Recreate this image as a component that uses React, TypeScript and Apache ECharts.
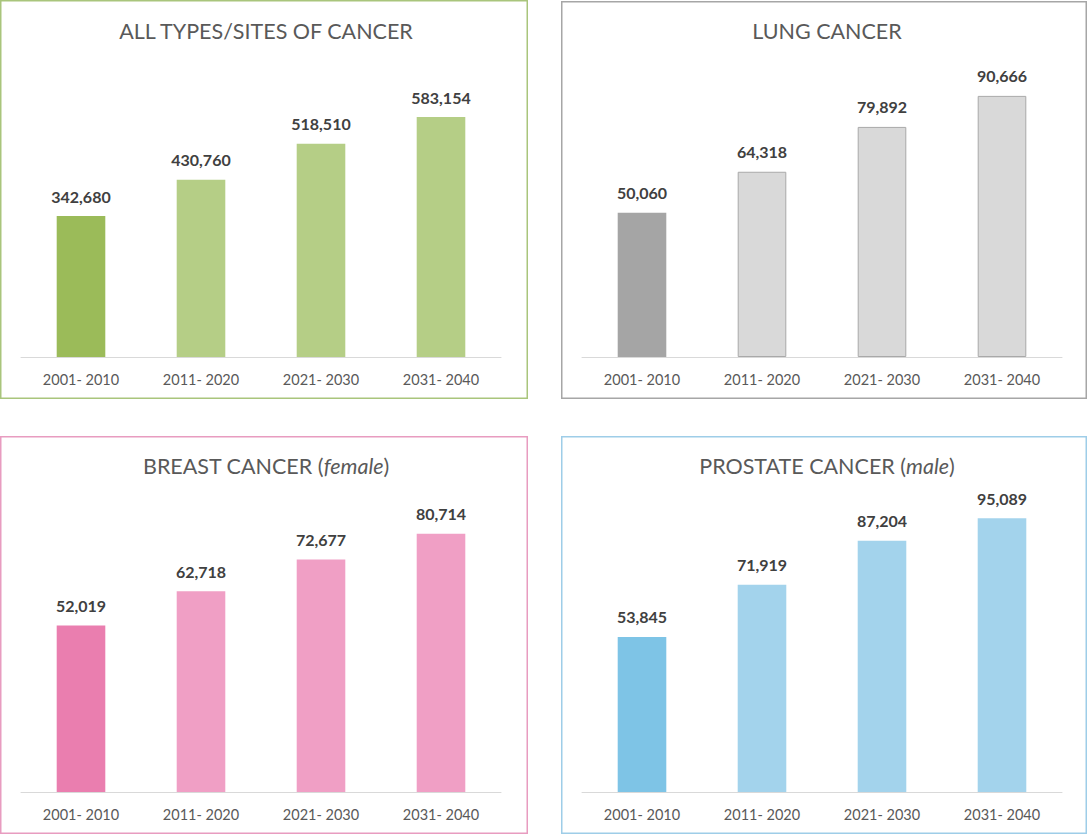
import React, { useEffect, useRef } from "react";
import * as echarts from "echarts";

const categories = ["2001- 2010", "2011- 2020", "2021- 2030", "2031- 2040"];
const allCancer = [342680, 430760, 518510, 583154];
const lungCancer = [50060, 64318, 79892, 90666];
const breastCancer = [52019, 62718, 72677, 80714];
const prostateCancer = [53845, 71919, 87204, 95089];
const titles = [
  "ALL TYPES/SITES OF CANCER",
  "LUNG CANCER",
  "BREAST CANCER ({i|female})",
  "PROSTATE CANCER ({i|male})",
];
const yMax = [700000, 100000, 90000, 100000];

const FONT = "Lato, 'Open Sans', sans-serif";

export default function App() {
  const ref = useRef<HTMLDivElement>(null);
  useEffect(() => {
    document.body.style.margin = "0";
    const chart = echarts.init(ref.current!, null, { renderer: "svg" });

    const panels = [
      { data: allCancer, first: "#9BBB59", rest: "#B5CE86", stroke: null, border: "#A9C57C", px: 0, py: 0, pw: 528, ph: 399 },
      { data: lungCancer, first: "#A5A5A5", rest: "#D9D9D9", stroke: "#A9A9A9", border: "#A6A6A6", px: 561, py: 1, pw: 526, ph: 398 },
      { data: breastCancer, first: "#EA7EAF", rest: "#F09FC5", stroke: null, border: "#E89CC0", px: 0, py: 436, pw: 528, ph: 398 },
      { data: prostateCancer, first: "#7EC4E6", rest: "#A3D3EC", stroke: null, border: "#9ECDE8", px: 561, py: 436, pw: 526, ph: 398 },
    ];

    const grids = panels.map((p, i) => ({
      left: i % 2 === 0 ? 21 : 582,
      width: 480,
      top: i < 2 ? 69 : 504,
      height: 288,
      containLabel: false,
    }));

    const option: any = {
      animation: false,
      backgroundColor: "#ffffff",
      title: panels.map((p, i) => ({
        text: titles[i],
        left: (i % 2 === 0 ? 21 : 582) + 240,
        top: i < 2 ? 15 : 450,
        textAlign: "center",
        textStyle: {
          fontFamily: FONT,
          fontSize: 21.5,
          fontWeight: "normal",
          color: "#595959",
          rich: {
            i: { fontFamily: FONT, fontSize: 21.5, fontStyle: "italic", color: "#595959" },
          },
        },
      })),
      grid: grids,
      xAxis: panels.map((p, i) => ({
        type: "category",
        gridIndex: i,
        data: categories,
        axisLine: { show: true, lineStyle: { color: "#D9D9D9", width: 1 } },
        axisTick: { show: false },
        axisLabel: { fontFamily: FONT, fontSize: 14.5, color: "#595959", margin: 15 },
      })),
      yAxis: panels.map((p, i) => ({
        type: "value",
        gridIndex: i,
        min: 0,
        max: yMax[i],
        show: false,
        splitLine: { show: false },
      })),
      series: panels.map((p, i) => ({
        type: "bar",
        xAxisIndex: i,
        yAxisIndex: i,
        barWidth: "40.5%",
        data: p.data.map((v, j) => ({
          value: v,
          itemStyle: {
            color: j === 0 ? p.first : p.rest,
            borderColor: p.stroke && j > 0 ? p.stroke : undefined,
            borderWidth: p.stroke && j > 0 ? 1 : 0,
          },
        })),
        label: {
          show: true,
          position: "top",
          distance: 12,
          fontFamily: FONT,
          fontSize: 16,
          fontWeight: "bold",
          color: "#404040",
          formatter: (d: any) => Number(d.value).toLocaleString("en-US"),
        },
      })),
      graphic: panels.map((p) => ({
        type: "rect",
        shape: { x: p.px + 0.75, y: p.py + 0.75, width: p.pw - 1.5, height: p.ph - 1.5 },
        style: { fill: "none", stroke: p.border, lineWidth: 1.5 },
        silent: true,
      })),
    };

    chart.setOption(option);
    return () => chart.dispose();
  }, []);

  return <div ref={ref} style={{ width: 1090, height: 836 }} />;
}
